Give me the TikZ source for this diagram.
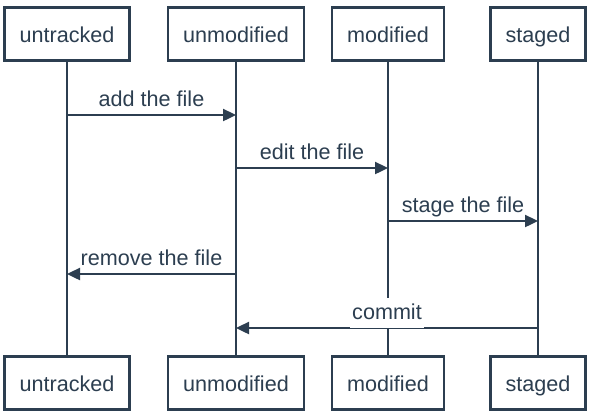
\documentclass[tikz,border=0pt]{standalone}
\usepackage{xcolor}
\usepackage{fontspec}
\setmainfont{Liberation Sans}
\usepackage{tikz}
\usetikzlibrary{arrows.meta, positioning}
\definecolor{slate}{RGB}{44,62,80}
\tikzset{
    base/.style={draw=slate, line width=1.2pt, text=slate, font=\fontsize{10.8}{12}\selectfont, align=center, outer sep=0pt},
    block/.style={base, rectangle, fill=white, inner xsep=7.5pt, inner ysep=0pt, text height=9.5pt, text depth=1pt, minimum height=26.5pt},
    life/.style={draw=slate, line width=1.2pt},
    line/.style={draw=slate, line width=1.2pt, -{Triangle[length=6.5pt, width=6pt]}},
    msg/.style={text=slate, font=\fontsize{10.8}{12}\selectfont, inner xsep=1pt, inner ysep=2.5pt, text depth=2pt, outer sep=0pt}
}

\begin{document}
\begin{tikzpicture}[node distance=148pt, auto]
    \useasboundingbox (0,0) rectangle (298pt,-209.5pt);

    \node [block] (UntrackedTop) at (33.5pt,-17pt) {untracked};
    \node [block] (UnmodTop) at (118pt,-17pt) {unmodified};
    \node [block] (ModTop) at (194pt,-17pt) {modified};
    \node [block] (StagedTop) at (269pt,-17pt) {staged};

    \node [block, below=of UntrackedTop] (UntrackedBot) {untracked};
    \node [block, below=of UnmodTop] (UnmodBot) {unmodified};
    \node [block, below=of ModTop] (ModBot) {modified};
    \node [block, below=of StagedTop] (StagedBot) {staged};

    \draw [life] (UntrackedTop) -- (UntrackedBot);
    \draw [life] (UnmodTop) -- (UnmodBot);
    \draw [life] (ModTop) -- (ModBot);
    \draw [life] (StagedTop) -- (StagedBot);

    \coordinate (Add) at (0,-57.5pt);
    \coordinate (Edit) at (0,-84pt);
    \coordinate (Stage) at (0,-110.5pt);
    \coordinate (Remove) at (0,-137pt);
    \coordinate (Commit) at (0,-164pt);

    \draw [line] (UntrackedTop |- Add) -- (UnmodTop |- Add) node [msg, midway, above] {add the file};
    \draw [line] (UnmodTop |- Edit) -- (ModTop |- Edit) node [msg, midway, above] {edit the file};
    \draw [line] (ModTop |- Stage) -- (StagedTop |- Stage) node [msg, midway, above] {stage the file};
    \draw [line] (UnmodTop |- Remove) -- (UntrackedTop |- Remove) node [msg, midway, above] {remove the file};
    \draw [line] (StagedTop |- Commit) -- (UnmodTop |- Commit) node [msg, fill=white, midway, above] {commit};
\end{tikzpicture}
\end{document}
